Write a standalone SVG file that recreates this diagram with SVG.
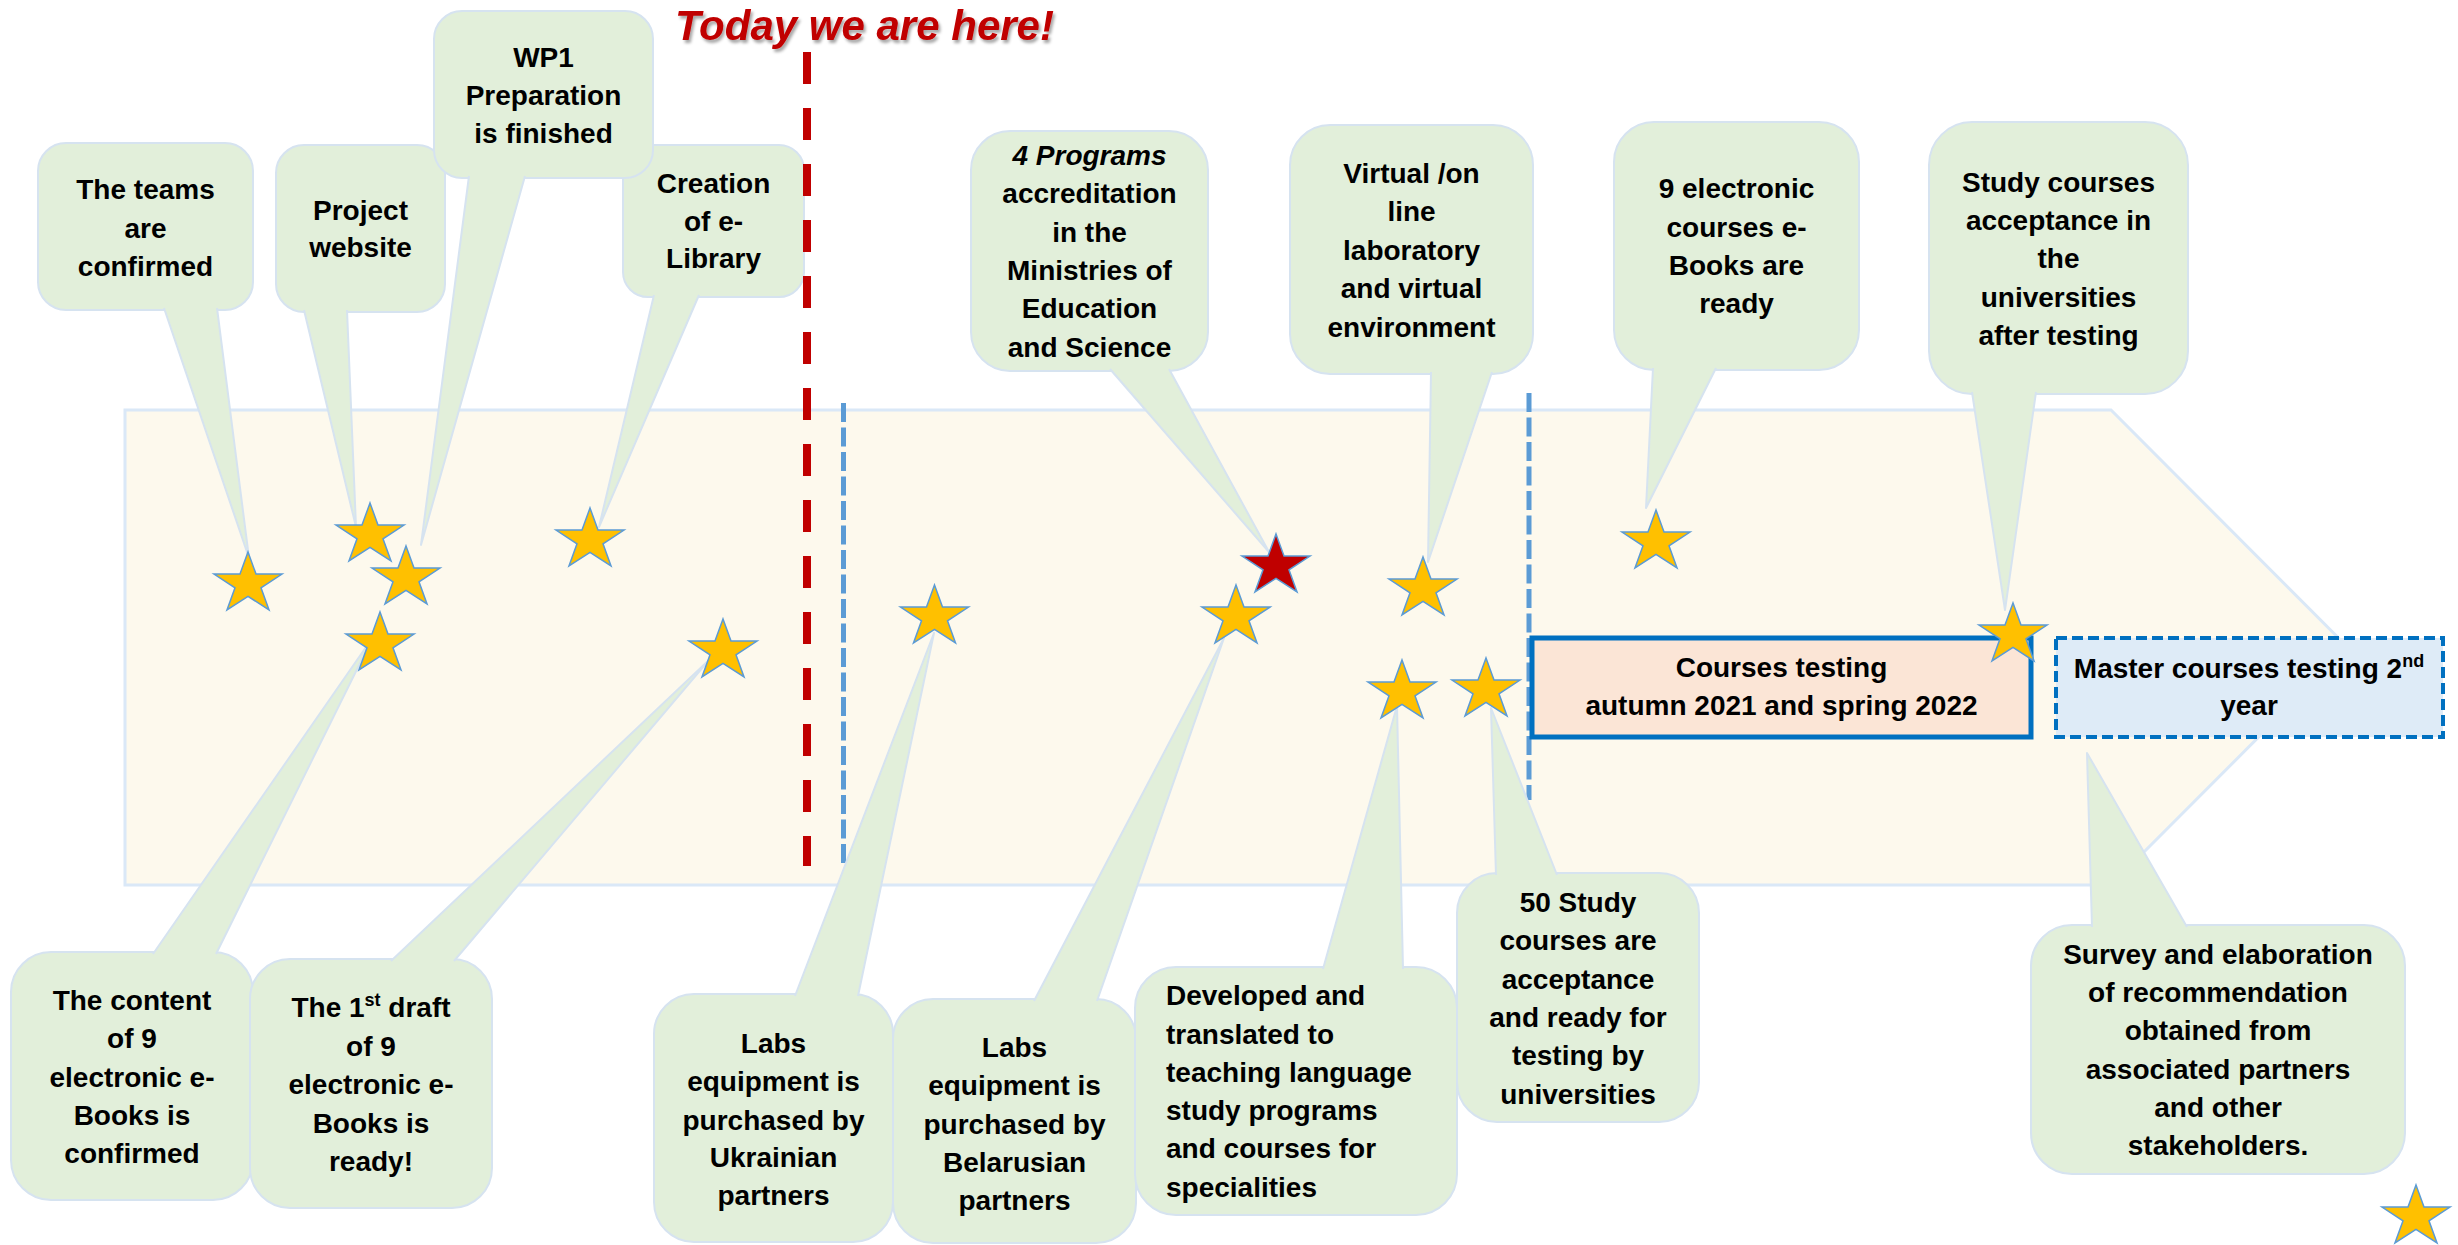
<svg xmlns="http://www.w3.org/2000/svg" xmlns:xlink="http://www.w3.org/1999/xlink" width="2458" height="1245" viewBox="0 0 2458 1245">
<style>
.box{fill:#E2EFDA;stroke:#D6E3F0;stroke-width:2}
.wedge{fill:#E2EFDA;stroke:#D6E3F0;stroke-width:2;stroke-linejoin:round}
.t{font-family:"Liberation Sans",Arial,sans-serif;font-weight:bold;font-size:28px;fill:#000;text-anchor:middle}
.tl{text-anchor:start}
.star{fill:#FFC000;stroke:#5B9BD5;stroke-width:1.5}
.rstar{fill:#C00000;stroke:#5B9BD5;stroke-width:1.5}
.sup{font-size:18px}
</style>
<defs>
<path id="st" d="M0,-32 L8,-9.9 L34,-9.9 L13,3.8 L21,26 L0,12.3 L-21,26 L-13,3.8 L-34,-9.9 L-8,-9.9 Z"/>
<filter id="sh" x="-5%" y="-20%" width="110%" height="150%"><feDropShadow dx="2" dy="3" stdDeviation="1.5" flood-color="#000" flood-opacity="0.35"/></filter>
</defs>
<rect width="2458" height="1245" fill="#fff"/>
<g id="timeline-arrow">
<path d="M125,410 H2111 L2348,647.5 L2111,885 H125 Z" fill="#FDF9ED" stroke="#DAE8F7" stroke-width="3"/>
</g>
<g id="phase-lines">
<line x1="843.5" y1="403" x2="843.5" y2="865" stroke="#5B9BD5" stroke-width="5" stroke-dasharray="19 5.5"/>
<line x1="1529" y1="393" x2="1529" y2="800" stroke="#5B9BD5" stroke-width="5" stroke-dasharray="19 5.5"/>
</g>
<g id="n-teams"><rect class="box" x="38" y="143" width="215" height="167" rx="28"/>
<text class="t"><tspan x="145.5" y="199">The teams</tspan><tspan x="145.5" y="238">are</tspan><tspan x="145.5" y="276">confirmed</tspan></text></g>
<g id="n-website"><rect class="box" x="276" y="145" width="169" height="167" rx="28"/>
<text class="t"><tspan x="360.5" y="220">Project</tspan><tspan x="360.5" y="257">website</tspan></text></g>
<g id="n-creation"><rect class="box" x="623" y="145" width="181" height="152" rx="25"/>
<text class="t"><tspan x="713.5" y="193">Creation</tspan><tspan x="713.5" y="231">of e-</tspan><tspan x="713.5" y="268">Library</tspan></text></g>
<g id="n-wp1"><rect class="box" x="434" y="11" width="219" height="167" rx="28"/>
<text class="t"><tspan x="543.5" y="67">WP1</tspan><tspan x="543.5" y="105">Preparation</tspan><tspan x="543.5" y="143">is finished</tspan></text></g>
<g id="n-accreditation"><rect class="box" x="971" y="131" width="237" height="240" rx="39"/>
<text class="t"><tspan x="1089.5" y="165" font-style="italic">4 Programs</tspan><tspan x="1089.5" y="203">accreditation</tspan><tspan x="1089.5" y="242">in the</tspan><tspan x="1089.5" y="280">Ministries of</tspan><tspan x="1089.5" y="318">Education</tspan><tspan x="1089.5" y="357">and Science</tspan></text></g>
<g id="n-virtual"><rect class="box" x="1290" y="125" width="243" height="249" rx="40"/>
<text class="t"><tspan x="1411.5" y="183">Virtual /on</tspan><tspan x="1411.5" y="221">line</tspan><tspan x="1411.5" y="259.5">laboratory</tspan><tspan x="1411.5" y="298">and virtual</tspan><tspan x="1411.5" y="337">environment</tspan></text></g>
<g id="n-ebooks-ready"><rect class="box" x="1614" y="122" width="245" height="248" rx="40"/>
<text class="t"><tspan x="1736.5" y="198">9 electronic</tspan><tspan x="1736.5" y="237">courses e-</tspan><tspan x="1736.5" y="275">Books are</tspan><tspan x="1736.5" y="313">ready</tspan></text></g>
<g id="n-acceptance"><rect class="box" x="1929" y="122" width="259" height="272" rx="43"/>
<text class="t"><tspan x="2058.5" y="191.5">Study courses</tspan><tspan x="2058.5" y="230">acceptance in</tspan><tspan x="2058.5" y="268">the</tspan><tspan x="2058.5" y="306.5">universities</tspan><tspan x="2058.5" y="345">after testing</tspan></text></g>
<g id="n-content"><rect class="box" x="11" y="952" width="242" height="248" rx="40"/>
<text class="t"><tspan x="132" y="1010">The content</tspan><tspan x="132" y="1048">of 9</tspan><tspan x="132" y="1087">electronic e-</tspan><tspan x="132" y="1125">Books is</tspan><tspan x="132" y="1163">confirmed</tspan></text></g>
<g id="n-draft"><rect class="box" x="250" y="959" width="242" height="249" rx="40"/>
<text class="t"><tspan x="371" y="1017">The 1<tspan class="sup" dy="-11">st</tspan><tspan dy="11"> draft</tspan></tspan><tspan x="371" y="1055.5">of 9</tspan><tspan x="371" y="1094">electronic e-</tspan><tspan x="371" y="1132.5">Books is</tspan><tspan x="371" y="1171">ready!</tspan></text></g>
<g id="n-labs-ua"><rect class="box" x="654" y="994" width="239" height="248" rx="40"/>
<text class="t"><tspan x="773.5" y="1053">Labs</tspan><tspan x="773.5" y="1091">equipment is</tspan><tspan x="773.5" y="1129.5">purchased by</tspan><tspan x="773.5" y="1167">Ukrainian</tspan><tspan x="773.5" y="1205">partners</tspan></text></g>
<g id="n-labs-by"><rect class="box" x="893" y="999" width="243" height="244" rx="40"/>
<text class="t"><tspan x="1014.5" y="1057">Labs</tspan><tspan x="1014.5" y="1095">equipment is</tspan><tspan x="1014.5" y="1133.5">purchased by</tspan><tspan x="1014.5" y="1172">Belarusian</tspan><tspan x="1014.5" y="1210">partners</tspan></text></g>
<g id="n-developed"><rect class="box" x="1135" y="967" width="322" height="248" rx="41"/>
<text class="t tl"><tspan x="1166" y="1005">Developed and</tspan><tspan x="1166" y="1043.5">translated to</tspan><tspan x="1166" y="1082">teaching language</tspan><tspan x="1166" y="1120">study programs</tspan><tspan x="1166" y="1158">and courses for</tspan><tspan x="1166" y="1197">specialities</tspan></text></g>
<g id="n-50courses"><rect class="box" x="1457" y="873" width="242" height="249" rx="40"/>
<text class="t"><tspan x="1578" y="912">50 Study</tspan><tspan x="1578" y="950">courses are</tspan><tspan x="1578" y="988.5">acceptance</tspan><tspan x="1578" y="1027">and ready for</tspan><tspan x="1578" y="1065">testing by</tspan><tspan x="1578" y="1103.5">universities</tspan></text></g>
<g id="n-survey"><rect class="box" x="2031" y="925" width="374" height="249" rx="41"/>
<text class="t"><tspan x="2218" y="963.5">Survey and elaboration</tspan><tspan x="2218" y="1002">of recommendation</tspan><tspan x="2218" y="1040">obtained from</tspan><tspan x="2218" y="1078.5">associated partners</tspan><tspan x="2218" y="1117">and other</tspan><tspan x="2218" y="1155">stakeholders.</tspan></text></g>
<g id="n-testing"><rect x="1532" y="638" width="499" height="99" fill="#FBE5D6" stroke="#0070C0" stroke-width="5"/>
<text class="t"><tspan x="1781.5" y="677">Courses testing</tspan><tspan x="1781.5" y="715">autumn 2021 and spring 2022</tspan></text></g>
<g id="n-master"><rect x="2056" y="638" width="387" height="99" fill="#DEEBF7" stroke="#0070C0" stroke-width="4" stroke-dasharray="11 5"/>
<text class="t"><tspan x="2249" y="678">Master courses testing 2<tspan class="sup" dy="-11">nd</tspan></tspan><tspan x="2249" y="715">year</tspan></text></g>
<g id="connectors">
<path class="wedge" d="M164,308 L249,558 L217,308"/>
<path class="wedge" d="M304,310 L356,527 L347,310"/>
<path class="wedge" d="M469,176 L421,545 L525,176"/>
<path class="wedge" d="M654,295 L599,527 L699,295"/>
<path class="wedge" d="M1110,369 L1269,552 L1169,369"/>
<path class="wedge" d="M1431,372 L1428,562 L1492,372"/>
<path class="wedge" d="M1653,368 L1646,508 L1716,368"/>
<path class="wedge" d="M1972,392 L2005,610 L2036,392"/>
<path class="wedge" d="M153,954 L373,637 L216,954"/>
<path class="wedge" d="M391,961 L709,660 L454,961"/>
<path class="wedge" d="M795,996 L934,633 L858,996"/>
<path class="wedge" d="M1034,1001 L1224,638 L1097,1001"/>
<path class="wedge" d="M1323,969 L1397,706 L1403,969"/>
<path class="wedge" d="M1496,875 L1491,708 L1557,875"/>
<path class="wedge" d="M2092,927 L2087,753 L2187,927"/>
</g>
<g id="today-line">
<line x1="807" y1="52" x2="807" y2="866" stroke="#C00000" stroke-width="8" stroke-dasharray="32 24"/>
</g>
<g id="stars">
<use xlink:href="#st" class="star" x="248" y="584"/>
<use xlink:href="#st" class="star" x="370" y="535"/>
<use xlink:href="#st" class="star" x="406" y="578"/>
<use xlink:href="#st" class="star" x="380" y="644"/>
<use xlink:href="#st" class="star" x="590" y="540"/>
<use xlink:href="#st" class="star" x="723" y="651"/>
<use xlink:href="#st" class="star" x="934.5" y="617"/>
<use xlink:href="#st" class="star" x="1236" y="617"/>
<use xlink:href="#st" class="rstar" x="1276" y="566"/>
<use xlink:href="#st" class="star" x="1423" y="589"/>
<use xlink:href="#st" class="star" x="1402" y="692"/>
<use xlink:href="#st" class="star" x="1486" y="690"/>
<use xlink:href="#st" class="star" x="1656" y="542"/>
<use xlink:href="#st" class="star" x="2013" y="635"/>
<use xlink:href="#st" class="star" x="2416" y="1217"/>
</g>
<g id="title">
<text x="675" y="40" filter="url(#sh)" style="font-family:'Liberation Sans',Arial,sans-serif;font-weight:bold;font-style:italic;font-size:42px;fill:#C00000">Today we are here!</text>
</g>
</svg>
